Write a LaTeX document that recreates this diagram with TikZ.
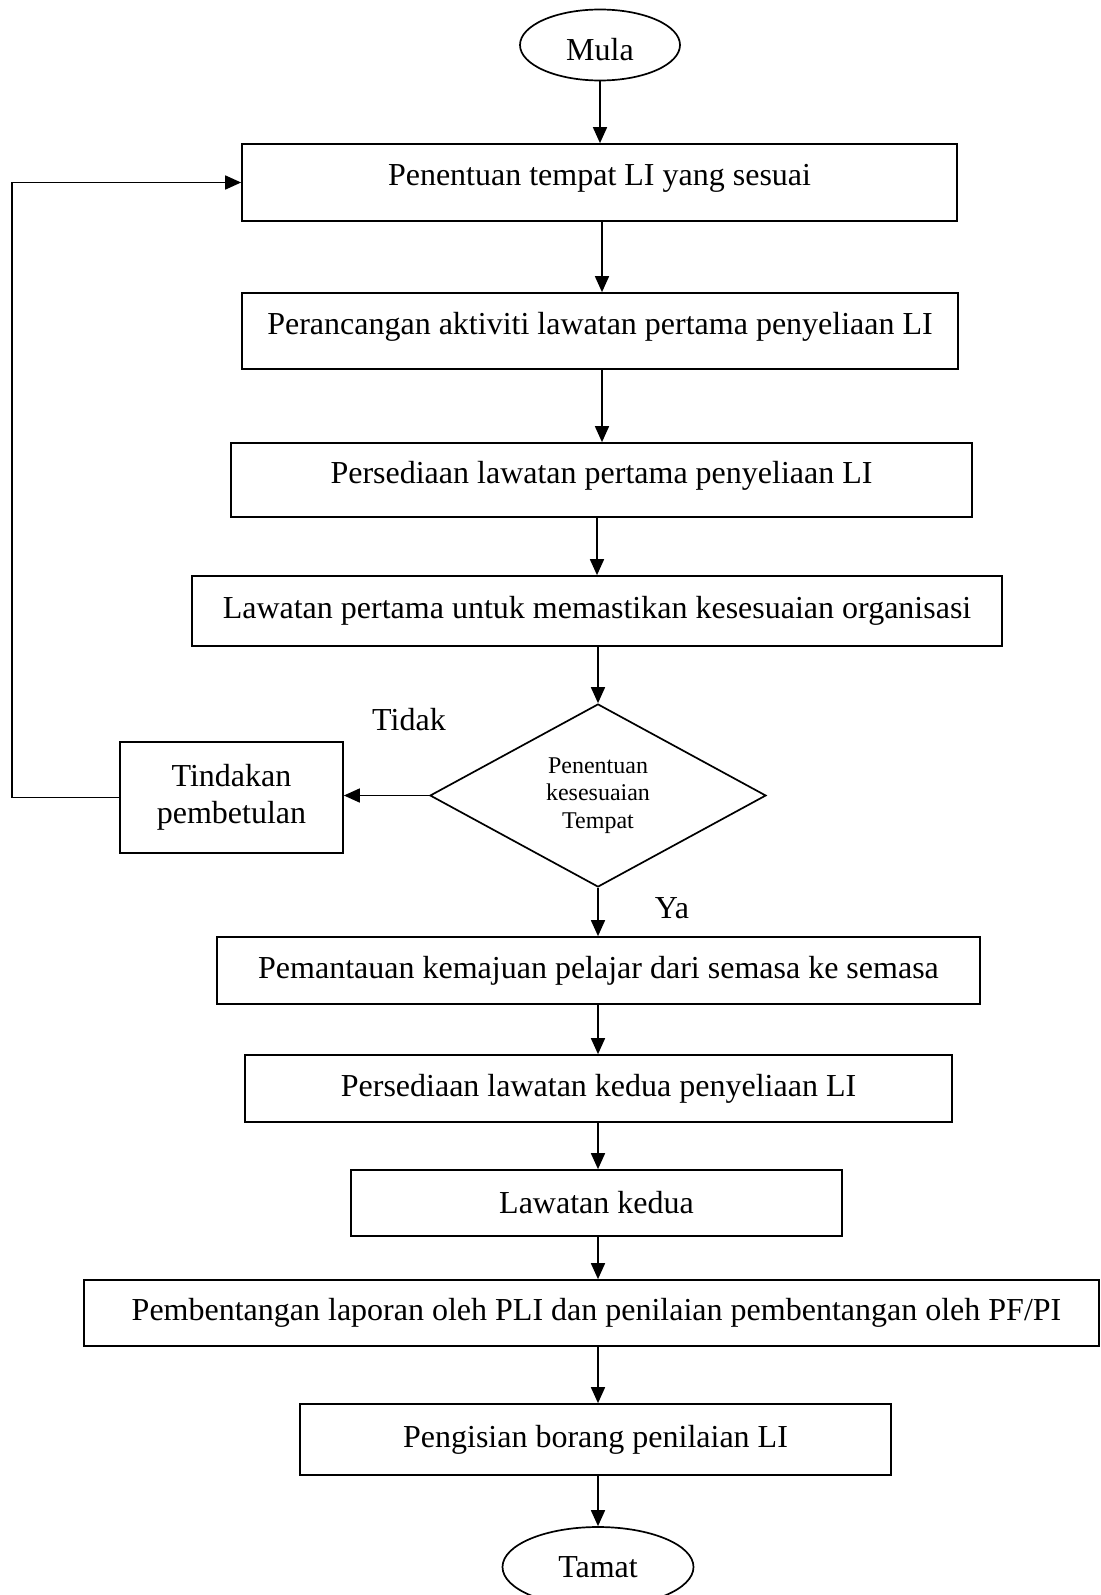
\documentclass[tikz,border=0pt]{standalone}
\usepackage{fontspec}
\setmainfont{Liberation Serif}
\usetikzlibrary{shapes.geometric,arrows.meta}
\begin{document}
\begin{tikzpicture}[x=1pt, y=-1pt, line width=1.7pt,
  box/.style={rectangle, draw, inner sep=0pt, font=\fontsize{32}{38}\selectfont},
  hi/.style={text depth=15pt},
  term/.style={ellipse, draw, inner sep=0pt, font=\fontsize{32}{38}\selectfont},
  lbl/.style={inner sep=0pt, font=\fontsize{32}{38}\selectfont},
  arr/.style={-{Triangle[length=16pt,width=14pt]}}]
\useasboundingbox (0,0) rectangle (1100,1595);
\node[term, minimum width=160pt, minimum height=71pt, text height=31pt] (mula) at (600,45){Mula};
\node[box, hi, minimum width=715pt, minimum height=77pt] (b1) at (599.5,182.5){Penentuan tempat LI yang sesuai};
\node[box, hi, minimum width=716pt, minimum height=76pt] (b2) at (600,331){Perancangan aktiviti lawatan pertama penyeliaan LI};
\node[box, hi, minimum width=741pt, minimum height=74pt] (b3) at (601.5,480){Persediaan lawatan pertama penyeliaan LI};
\node[box, minimum width=810pt, minimum height=70pt] (b4) at (597,611){Lawatan pertama untuk memastikan kesesuaian organisasi};
\node[diamond, draw, inner sep=0pt, minimum width=336pt, minimum height=183pt] (dec) at (598,795.5){};
\node[lbl, align=center, font=\fontsize{24}{27.5}\selectfont] (dectxt) at (dec){Penentuan\\kesesuaian\\Tempat};
\node[box, minimum width=223pt, minimum height=111pt, align=center, font=\fontsize{32}{36.6}\selectfont] (fix) at (231.5,797.5){Tindakan\\pembetulan};
\node[lbl] (tidak) at (409,720){Tidak};
\node[lbl] (ya) at (672,908){Ya};
\node[box, minimum width=763pt, minimum height=67pt] (b5) at (598.5,970.5){Pemantauan kemajuan pelajar dari semasa ke semasa};
\node[box, minimum width=707pt, minimum height=67pt] (b6) at (598.5,1088.5){Persediaan lawatan kedua penyeliaan LI};
\node[box, minimum width=491pt, minimum height=66pt] (b7) at (596.5,1203){Lawatan kedua};
\node[box, minimum width=1015pt, minimum height=66pt] (b8) at (591.5,1313){\hspace*{10pt}Pembentangan laporan oleh PLI dan penilaian pembentangan oleh PF/PI};
\node[box, minimum width=591pt, minimum height=71pt] (b9) at (595.5,1439.5){Pengisian borang penilaian LI};
\node[term, minimum width=191pt, minimum height=80pt] (tamat) at (598,1567){Tamat};
\draw[arr](mula) -- (mula |- b1.north);
\draw[arr](b1.south -| 602,0) -- (b2.north -| 602,0);
\draw[arr](b2.south -| 602,0) -- (b3.north -| 602,0);
\draw[arr](b3.south -| b4.north) -- (b4.north);
\draw[arr](b4.south -| dec.north) -- (dec.north);
\draw[arr](dec.west) -- (dec.west -| fix.east);
\draw[arr](fix.west) -- ++(-107,0) |- (b1.west);
\draw[arr](dec.south) -- (dec.south |- b5.north);
\draw[arr](b5.south -| dec.south) -- (b6.north -| dec.south);
\draw[arr](b6.south -| dec.south) -- (b7.north -| dec.south);
\draw[arr](b7.south -| dec.south) -- (b8.north -| dec.south);
\draw[arr](b8.south -| dec.south) -- (b9.north -| dec.south);
\draw[arr](b9.south -| tamat.north) -- (tamat.north);
\end{tikzpicture}
\end{document}
